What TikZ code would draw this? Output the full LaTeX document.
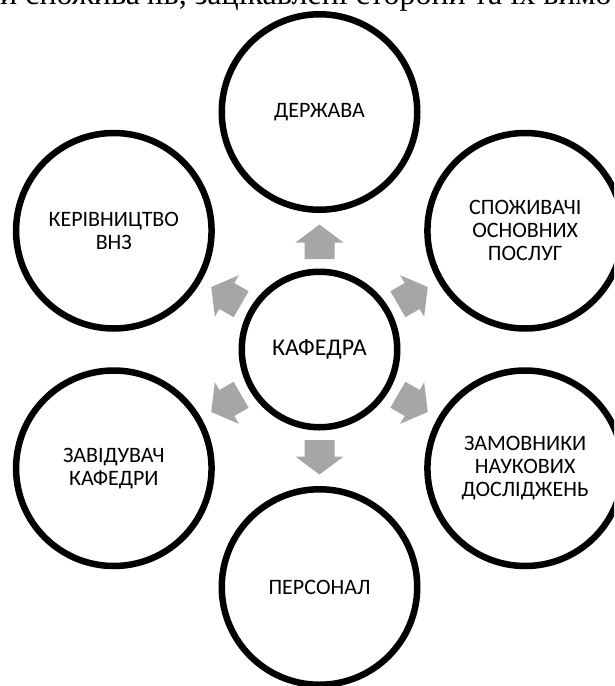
\documentclass[tikz,border=0pt]{standalone}
\usepackage{fontspec}
\usetikzlibrary{calc}
\setmainfont{Carlito}
\newfontfamily\bodyserif{Liberation Serif}
\begin{document}
\begin{tikzpicture}[x=1pt,y=1pt,
  ring/.style={circle,draw=black,line width=6.5pt,fill=white,align=center,
    minimum size=195.5pt,inner sep=0pt,font=\fontsize{22}{23}\selectfont},
  hub/.style={ring,minimum size=155.5pt,font=\fontsize{24}{26}\selectfont},
  blockarrow/.style={fill=black!35,draw=none}]
\useasboundingbox (0,0) rectangle (614,-686);
\begin{scope}
\clip (0,0) rectangle (614,-686);
\node[anchor=base west,inner sep=0pt,font=\bodyserif\fontsize{32}{34}\selectfont] (top) at (0,-4) {и споживачів, зацікавлені сторони та їх вимо};
\node[hub] (c) at (319.5,-349.5) {КАФЕДРА};
\node[ring] (d) at ($(c)+(90:237.5)$) {ДЕРЖАВА};
\node[ring] (s) at ($(c)+(30:237.5)$) {СПОЖИВАЧІ\\ОСНОВНИХ\\ПОСЛУГ};
\node[ring] (z) at ($(c)+(-30:237.5)$) {ЗАМОВНИКИ\\НАУКОВИХ\\ДОСЛІДЖЕНЬ};
\node[ring] (p) at ($(c)+(-90:237.5)$) {ПЕРСОНАЛ};
\node[ring] (v) at ($(c)+(-150:237.5)$) {ЗАВІДУВАЧ\\КАФЕДРИ};
\node[ring] (k) at ($(c)+(150:237.5)$) {КЕРІВНИЦТВО\\ВНЗ};
\foreach \a in {90,30,-30,-90,-150,150}{
  \begin{scope}[shift={(c)},rotate=\a]
    \fill[blockarrow] (90.5,-15) -- (107,-15) -- (107,-24) -- (125,0) -- (107,24) -- (107,15) -- (90.5,15) -- cycle;
  \end{scope}
}
\end{scope}
\end{tikzpicture}
\end{document}
